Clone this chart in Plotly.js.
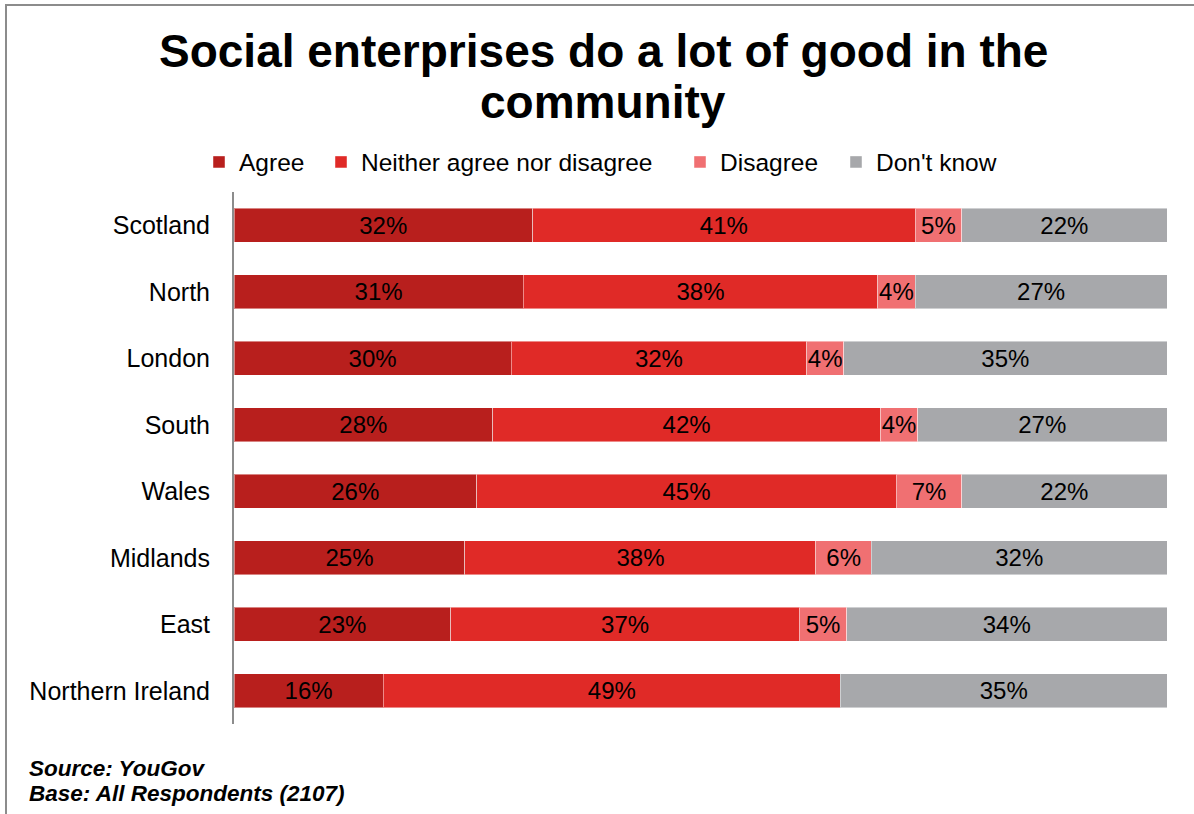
<!DOCTYPE html>
<html>
<head>
<meta charset="utf-8">
<script src="https://cdn.plot.ly/plotly-3.0.1.min.js"></script>
<style>html,body{margin:0;padding:0;background:#fff;}#chart{width:1194px;height:814px;}</style>
</head>
<body>
<div id="chart"></div>
<script>
const regions = ["Scotland", "North", "London", "South", "Wales", "Midlands", "East", "Northern Ireland"];
const seriesNames = ["Agree", "Neither agree nor disagree", "Disagree", "Don't know"];
const agree    = [32, 31, 30, 28, 26, 25, 23, 16];
const neither  = [41, 38, 32, 42, 45, 38, 37, 49];
const disagree = [5, 4, 4, 4, 7, 6, 5, 0];
const dontKnow = [22, 27, 35, 27, 22, 32, 34, 35];
const colors = ["#B81F1D", "#E02A27", "#F07072", "#A7A8AB"];
const titleLines = ["Social enterprises do a lot of good in the", "community"];
const notes = ["Source: YouGov", "Base: All Respondents (2107)"];

const FONT = "Liberation Sans, Arial, sans-serif";
const series = [agree, neither, disagree, dontKnow];
const legendIds = ["legend", "legend2", "legend3", "legend4"];

const traces = series.map((vals, i) => ({
  type: "bar",
  orientation: "h",
  name: seriesNames[i],
  legend: legendIds[i],
  y: regions,
  x: vals,
  text: vals.map(v => v ? v + "%" : ""),
  textposition: "inside",
  insidetextanchor: "middle",
  constraintext: "none",
  textfont: {family: FONT, size: 24, color: "#000"},
  marker: {color: colors[i], line: {color: "rgba(255,255,255,0.45)", width: 1}},
  hoverinfo: "skip"
}));

const L = 234, R = 27, T = 192, B = 90;
const W = 1194, H = 814;
const pw = W - L - R, ph = H - T - B;
const px = x => (x - L) / pw;
const py = y => (H - B - y) / ph;

// reference text start positions of the legend entries (pixels)
const legendTextX = [239, 361, 720, 876];

const layout = {
  width: W, height: H,
  margin: {l: L, r: R, t: T, b: B, pad: 0},
  paper_bgcolor: "#fff",
  plot_bgcolor: "#fff",
  barmode: "stack",
  barnorm: "percent",
  bargap: 0.49,
  showlegend: true,
  font: {family: FONT, color: "#000"},
  xaxis: {range: [0, 100], visible: false, fixedrange: true},
  yaxis: {
    type: "category",
    autorange: "reversed",
    showline: true, linecolor: "#8C8C8C", linewidth: 2,
    ticks: "outside", ticklen: 17, tickcolor: "rgba(0,0,0,0)",
    tickfont: {family: FONT, size: 25, color: "#000"},
    showgrid: false, zeroline: false, fixedrange: true
  },
  shapes: [{
    type: "rect", xref: "paper", yref: "paper",
    x0: px(6), x1: px(1210), y0: py(830), y1: py(5),
    line: {color: "#8C8C8C", width: 2}, fillcolor: "rgba(0,0,0,0)", layer: "below"
  }],
  annotations: [
    {text: "<b>" + titleLines[0] + "</b>", xref: "paper", yref: "paper", x: px(603), y: py(51), xanchor: "center", yanchor: "middle", showarrow: false, font: {family: FONT, size: 46, color: "#000"}},
    {text: "<b>" + titleLines[1] + "</b>", xref: "paper", yref: "paper", x: px(603), y: py(102), xanchor: "center", yanchor: "middle", showarrow: false, font: {family: FONT, size: 46, color: "#000"}},
    {text: "<b><i>" + notes[0] + "</i></b>", xref: "paper", yref: "paper", x: px(27), y: py(768), xanchor: "left", yanchor: "middle", showarrow: false, font: {family: FONT, size: 22.5, color: "#000"}},
    {text: "<b><i>" + notes[1] + "</i></b>", xref: "paper", yref: "paper", x: px(27), y: py(793), xanchor: "left", yanchor: "middle", showarrow: false, font: {family: FONT, size: 22.5, color: "#000"}}
  ]
};

legendIds.forEach((id, i) => {
  layout[id] = {
    orientation: "h",
    x: px(legendTextX[i] - 40), xanchor: "left",
    y: py(162), yanchor: "middle",
    bgcolor: "rgba(0,0,0,0)",
    font: {family: FONT, size: 24.5, color: "#000"},
    itemclick: false
  };
});

Plotly.newPlot("chart", traces, layout, {displayModeBar: false, staticPlot: true});
</script>
</body>
</html>
